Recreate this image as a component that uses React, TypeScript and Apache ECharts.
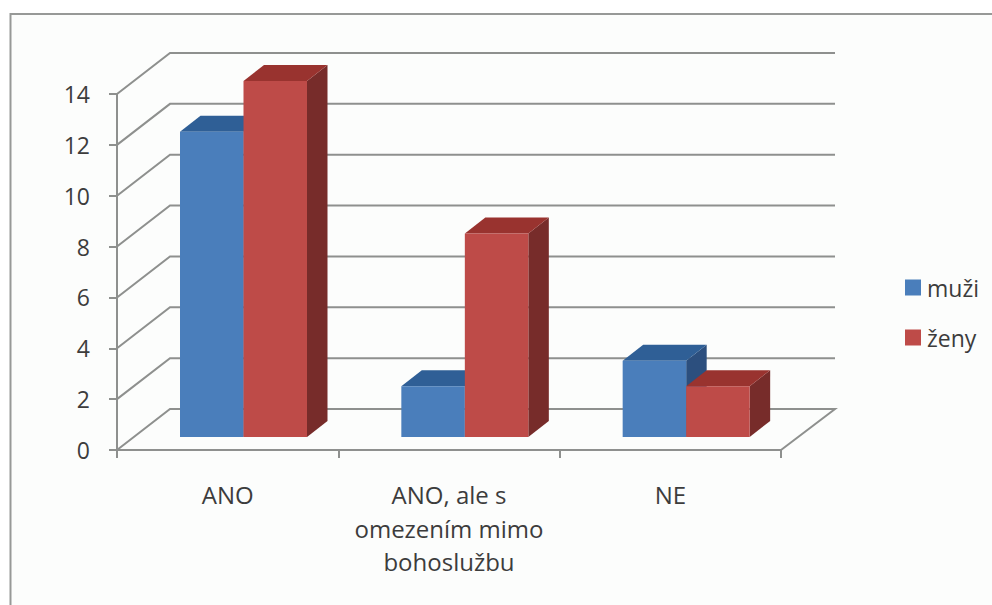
import React, { useEffect, useRef } from "react";
import * as echarts from "echarts";

const categories = ["ANO", "ANO, ale s\nomezením mimo\nbohoslužbu", "NE"];
const muzi = [12, 2, 3];
const zeny = [14, 8, 2];
const yTicks = [0, 2, 4, 6, 8, 10, 12, 14];

const FONT = "'Open Sans', sans-serif";
const TEXT = "#3c3c3c";
const LINE = "#8e908e";
const WALL_DX = 53;
const WALL_DY = -41;
const BAR_W = 63.5;
const BAR_DX = 63;
const BAR_DY = -13;
const DEPTH_X = 20.5;
const DEPTH_Y = -16;

function barSeries(name: string, values: number[], slot: number, front: string, top: string, side: string) {
  return {
    type: "custom",
    name,
    clip: false,
    itemStyle: { color: front },
    data: values.map((v, i) => [i, v]),
    encode: { x: 0, y: 1 },
    renderItem: (_p: any, api: any) => {
      const cat = api.value(0);
      const v = api.value(1);
      const base = api.coord([cat, 0]);
      const head = api.coord([cat, v]);
      const band = api.size([1, 0])[0];
      const x0 = base[0] - band / 2 + BAR_DX + slot * BAR_W;
      const x1 = x0 + BAR_W;
      const yb = base[1] + BAR_DY;
      const yt = head[1] + BAR_DY;
      return {
        type: "group",
        children: [
          {
            type: "polygon",
            shape: { points: [[x1, yt], [x1 + DEPTH_X, yt + DEPTH_Y], [x1 + DEPTH_X, yb + DEPTH_Y], [x1, yb]] },
            style: { fill: side },
          },
          {
            type: "polygon",
            shape: { points: [[x0, yt], [x0 + DEPTH_X, yt + DEPTH_Y], [x1 + DEPTH_X, yt + DEPTH_Y], [x1, yt]] },
            style: { fill: top },
          },
          { type: "rect", shape: { x: x0, y: yt, width: BAR_W, height: yb - yt }, style: { fill: front } },
        ],
      };
    },
  };
}

export default function App() {
  const ref = useRef<HTMLDivElement>(null);
  useEffect(() => {
    document.body.style.margin = "0";
    const chart = echarts.init(ref.current!, undefined, { renderer: "svg" });
    chart.setOption({
      animation: false,
      backgroundColor: "#ffffff",
      textStyle: { fontFamily: FONT },
      graphic: [
        {
          type: "rect",
          z: -10,
          silent: true,
          shape: { x: 10.5, y: 14, width: 1000, height: 620 },
          style: { fill: "#fcfdfc", stroke: "#979997", lineWidth: 2 },
        },
      ],
      grid: { left: 117, top: 94, width: 664, height: 356 },
      legend: {
        data: ["muži", "ženy"],
        orient: "vertical",
        left: 900,
        top: 271,
        icon: "rect",
        itemWidth: 16,
        itemHeight: 16,
        itemGap: 27,
        textStyle: { fontFamily: FONT, fontSize: 23, color: TEXT, padding: [0, 0, 0, 1] },
      },
      xAxis: {
        type: "category",
        data: categories,
        axisLine: { show: true, lineStyle: { color: LINE, width: 2 } },
        axisTick: { show: true, length: 8, alignWithLabel: false, lineStyle: { color: LINE, width: 2 } },
        axisLabel: { color: TEXT, fontFamily: FONT, fontSize: 24, margin: 28, lineHeight: 33.5, interval: 0 },
      },
      yAxis: {
        type: "value",
        min: 0,
        max: 14,
        interval: 2,
        splitLine: { show: false },
        axisLine: { show: true, lineStyle: { color: LINE, width: 2 } },
        axisTick: { show: true, length: 8, lineStyle: { color: LINE, width: 2 } },
        axisLabel: { color: TEXT, fontFamily: FONT, fontSize: 23, margin: 27 },
      },
      series: [
        {
          type: "custom",
          name: "wall",
          clip: false,
          silent: true,
          data: yTicks.map((t) => [0, t]),
          encode: { x: 0, y: 1 },
          renderItem: (_p: any, api: any) => {
            const v = api.value(1);
            const start = api.coord([0, v]);
            const band = api.size([1, 0])[0];
            const x0 = start[0] - band / 2;
            const xEnd = x0 + band * categories.length;
            const points = [
              [x0, start[1]],
              [x0 + WALL_DX, start[1] + WALL_DY],
              [xEnd + WALL_DX + 1, start[1] + WALL_DY],
            ];
            if (v === 0) points.push([xEnd, start[1]]);
            return {
              type: "polyline",
              shape: { points },
              style: { stroke: LINE, lineWidth: 2, fill: "none" },
            };
          },
        },
        barSeries("muži", muzi, 0, "#4a7ebb", "#2f5f96", "#2c4f7e"),
        barSeries("ženy", zeny, 1, "#be4b48", "#99332f", "#772c2a"),
      ],
    });
    return () => chart.dispose();
  }, []);
  return <div ref={ref} style={{ width: 992, height: 605 }} />;
}
